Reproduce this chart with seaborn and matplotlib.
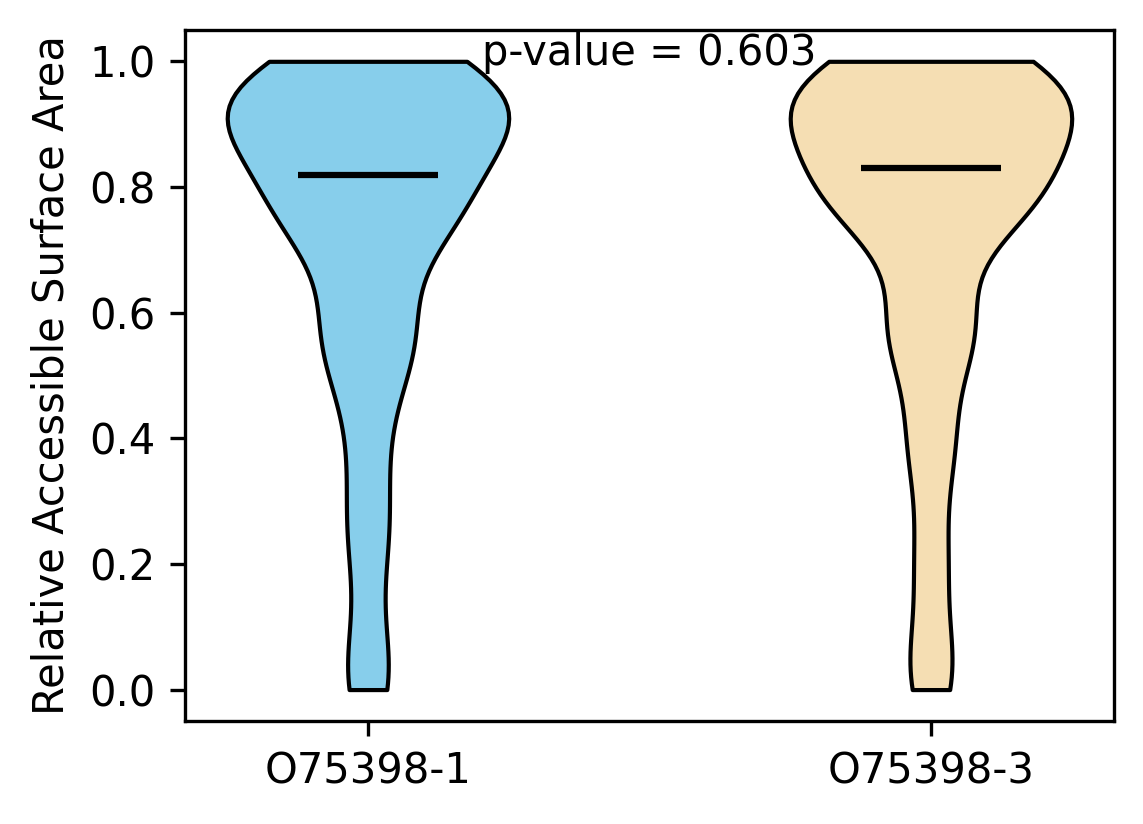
import numpy as np
import pandas as pd
import matplotlib
matplotlib.use("Agg")
import matplotlib.pyplot as plt
import seaborn as sns

# --------------------------------------------------
# Data: RSA values (binned at 0.025) and number of residues per bin
# --------------------------------------------------

isoforms = ["O75398-1", "O75398-3"]

rsa_levels = [0.0, 0.025, 0.05, 0.075, 0.1, 0.125, 0.15, 0.175, 0.2, 0.225,
              0.25, 0.275, 0.3, 0.325, 0.35, 0.375, 0.4, 0.425, 0.45, 0.475,
              0.5, 0.525, 0.55, 0.575, 0.6, 0.625, 0.65, 0.675, 0.7, 0.725,
              0.75, 0.775, 0.8, 0.825, 0.85, 0.875, 0.9, 0.925, 0.95, 0.975,
              1.0]

counts_iso1 = [15, 6, 4, 3, 2, 2, 1, 1, 3, 6,
               7, 5, 3, 3, 3, 4, 4, 4, 4, 4,
               5, 9, 16, 17, 10, 4, 2, 2, 6, 20,
               34, 26, 15, 11, 14, 24, 38, 44, 39, 31,
               28]

counts_iso3 = [6, 14, 8, 2, 0, 0, 0, 3, 11, 6,
               1, 0, 0, 0, 3, 12, 11, 4, 1, 0,
               1, 2, 15, 30, 10, 1, 0, 0, 1, 8,
               28, 40, 29, 18, 15, 17, 26, 39, 46, 41,
               28]

median_rsa = [0.819, 0.830]
p_value = 0.603

colors = ["#87CEEB", "#F5DEB3"]  # skyblue / wheat

# --------------------------------------------------
# Long-form table
# --------------------------------------------------

df = pd.concat([
    pd.DataFrame({"isoform": isoforms[0], "rsa": np.repeat(rsa_levels, counts_iso1)}),
    pd.DataFrame({"isoform": isoforms[1], "rsa": np.repeat(rsa_levels, counts_iso3)}),
], ignore_index=True)

# --------------------------------------------------
# Plot
# --------------------------------------------------

fig, ax = plt.subplots(figsize=(3.813, 2.747), dpi=300)
fig.subplots_adjust(left=0.1617, right=0.9738, bottom=0.125, top=0.9636)

sns.violinplot(
    data=df,
    x="isoform",
    y="rsa",
    hue="isoform",
    order=isoforms,
    hue_order=isoforms,
    palette=colors,
    saturation=1,
    cut=0,
    inner=None,
    width=0.5,
    density_norm="width",
    bw_method="scott",
    gridsize=100,
    linewidth=1,
    linecolor="black",
    legend=False,
    ax=ax,
)

# median bars (half the violin width)
pos = np.arange(len(isoforms))
ax.hlines(median_rsa, pos - 0.125, pos + 0.125, colors="black", linewidth=1.5, zorder=3)

ax.text(0.5, 0.95, f"p-value = {p_value}", transform=ax.transAxes, ha="center")

ax.set_xlim(-0.325, 1.325)
ax.set_ylim(-0.05, 1.05)
ax.set_yticks([0.0, 0.2, 0.4, 0.6, 0.8, 1.0])
ax.set_xlabel("")
ax.set_ylabel("Relative Accessible Surface Area")

fig.savefig("out.png", dpi=300)
plt.close()
